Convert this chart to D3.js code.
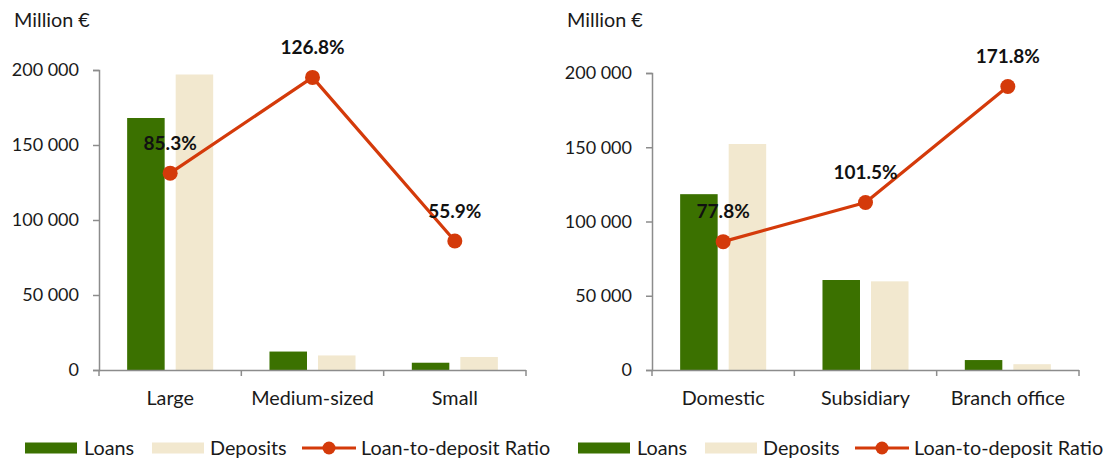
<!DOCTYPE html>
<html>
<head>
<meta charset="utf-8">
<script src="https://cdn.jsdelivr.net/npm/d3@7"></script>
<style>
  html, body { margin: 0; padding: 0; background: #ffffff; }
  svg { display: block; font-family: Lato, "Open Sans", sans-serif; }
</style>
</head>
<body>
<svg id="chart" width="1109" height="460"></svg>
<script>
// Series names
const seriesNames = ["Loans", "Deposits"];
const ratioName = "Loan-to-deposit Ratio";

// Left panel: by bank size
const sizeCategories = ["Large", "Medium-sized", "Small"];
const sizeLoans = [168000, 12300, 4850];
const sizeDeposits = [197000, 9700, 8680];
const sizeRatio = [85.3, 126.8, 55.9];

// Right panel: by bank type
const typeCategories = ["Domestic", "Subsidiary", "Branch office"];
const typeLoans = [118400, 60600, 6700];
const typeDeposits = [152200, 59700, 3900];
const typeRatio = [77.8, 101.5, 171.8];

// Axis ticks (million euro)
const yTicks = [0, 50000, 100000, 150000, 200000];
const yUnit = "Million €";

const colors = { Loans: "#3b7100", Deposits: "#f2e8cf", ratio: "#d43a0a", axis: "#8c8c8c", text: "#1a1a1a" };
const wordSize = 19.8;   // text labels
const digitSize = 18;    // numeric tick labels

const fmt = d3.formatLocale({ decimal: ".", thousands: " ", grouping: [3], currency: ["", ""] }).format(",");

const svg = d3.select("#chart");

function drawPanel(cfg) {
  const g = svg.append("g");
  const x = d3.scaleBand().domain(cfg.categories).range([cfg.x0, cfg.x1]).paddingInner(0).paddingOuter(0);
  const xs = d3.scaleBand().domain(seriesNames).range([0, x.bandwidth()]).paddingInner(0.227).paddingOuter(0.58);
  const y = d3.scaleLinear().domain([0, 200000]).range([cfg.yBottom, cfg.yTop]);
  const yr = d3.scaleLinear().domain([0, cfg.ratioMax]).range([cfg.yBottom, cfg.yTop]);

  // unit label
  g.append("text").attr("x", cfg.x0 - 85).attr("y", 27)
    .attr("font-size", wordSize).attr("fill", colors.text).text(yUnit);

  // y axis
  const yAxis = g.append("g").attr("transform", `translate(${cfg.x0},0)`)
    .call(d3.axisLeft(y).tickValues(yTicks).tickFormat(fmt).tickSize(6).tickPadding(14));
  yAxis.select(".domain").attr("stroke", colors.axis).attr("stroke-width", 1.5);
  yAxis.selectAll(".tick line").attr("stroke", colors.axis).attr("stroke-width", 1.5);
  yAxis.selectAll(".tick text").attr("font-size", digitSize).attr("font-family", "Lato, sans-serif").attr("fill", colors.text);

  // bars
  const rows = cfg.categories.map((c, i) => ({ cat: c, Loans: cfg.loans[i], Deposits: cfg.deposits[i] }));
  g.append("g").selectAll("g").data(rows).join("g")
    .attr("transform", d => `translate(${x(d.cat)},0)`)
    .selectAll("rect").data(d => seriesNames.map(k => ({ key: k, value: d[k] }))).join("rect")
    .attr("x", d => xs(d.key)).attr("width", xs.bandwidth())
    .attr("y", d => y(d.value)).attr("height", d => y(0) - y(d.value))
    .attr("fill", d => colors[d.key]);

  // x axis with ticks between categories
  const xAxis = g.append("g").attr("transform", `translate(0,${cfg.yBottom})`);
  xAxis.append("line").attr("x1", cfg.x0).attr("x2", cfg.x1).attr("y1", 0.5).attr("y2", 0.5)
    .attr("stroke", colors.axis).attr("stroke-width", 1.5);
  const bounds = cfg.categories.map(c => x(c)).concat([cfg.x1]);
  xAxis.selectAll("line.t").data(bounds).join("line").attr("class", "t")
    .attr("x1", d => d).attr("x2", d => d).attr("y1", 0).attr("y2", 6)
    .attr("stroke", colors.axis).attr("stroke-width", 1.5);
  xAxis.selectAll("text").data(cfg.categories).join("text")
    .attr("x", d => x(d) + x.bandwidth() / 2).attr("y", 35)
    .attr("text-anchor", "middle").attr("font-size", wordSize).attr("fill", colors.text).text(d => d);

  // ratio line
  const pts = cfg.categories.map((c, i) => ({ cat: c, v: cfg.ratio[i] }));
  const line = d3.line().x(d => x(d.cat) + x.bandwidth() / 2).y(d => yr(d.v));
  g.append("path").datum(pts).attr("d", line).attr("fill", "none")
    .attr("stroke", colors.ratio).attr("stroke-width", 3.2).attr("stroke-linejoin", "round");
  g.append("g").selectAll("circle").data(pts).join("circle")
    .attr("cx", d => x(d.cat) + x.bandwidth() / 2).attr("cy", d => yr(d.v)).attr("r", 7.5)
    .attr("fill", colors.ratio);
  g.append("g").selectAll("text").data(pts).join("text")
    .attr("x", d => x(d.cat) + x.bandwidth() / 2).attr("y", d => yr(d.v) - 23.5)
    .attr("text-anchor", "middle").attr("font-size", 19).attr("font-weight", "bold")
    .attr("fill", "#111").text(d => d.v.toFixed(1) + "%");

  // legend
  const lg = g.append("g").attr("transform", `translate(${cfg.legendX},448)`);
  lg.append("rect").attr("x", 0).attr("y", -5.5).attr("width", 52).attr("height", 11).attr("fill", colors.Loans);
  lg.append("text").attr("x", 59).attr("y", 6.5).attr("font-size", wordSize).attr("fill", colors.text).text(seriesNames[0]);
  lg.append("rect").attr("x", 127).attr("y", -5.5).attr("width", 52).attr("height", 11).attr("fill", colors.Deposits);
  lg.append("text").attr("x", 185).attr("y", 6.5).attr("font-size", wordSize).attr("fill", colors.text).text(seriesNames[1]);
  lg.append("line").attr("x1", 277).attr("x2", 331).attr("y1", 0).attr("y2", 0)
    .attr("stroke", colors.ratio).attr("stroke-width", 3.2);
  lg.append("circle").attr("cx", 304).attr("cy", 0).attr("r", 6.5).attr("fill", colors.ratio);
  lg.append("text").attr("x", 336).attr("y", 6.5).attr("font-size", wordSize).attr("fill", colors.text).text(ratioName);
}

drawPanel({
  categories: sizeCategories, loans: sizeLoans, deposits: sizeDeposits, ratio: sizeRatio,
  x0: 99, x1: 526, yBottom: 370, yTop: 70, ratioMax: 130, legendX: 25
});
drawPanel({
  categories: typeCategories, loans: typeLoans, deposits: typeDeposits, ratio: typeRatio,
  x0: 652, x1: 1079, yBottom: 370, yTop: 73, ratioMax: 180, legendX: 578
});
</script>
</body>
</html>
